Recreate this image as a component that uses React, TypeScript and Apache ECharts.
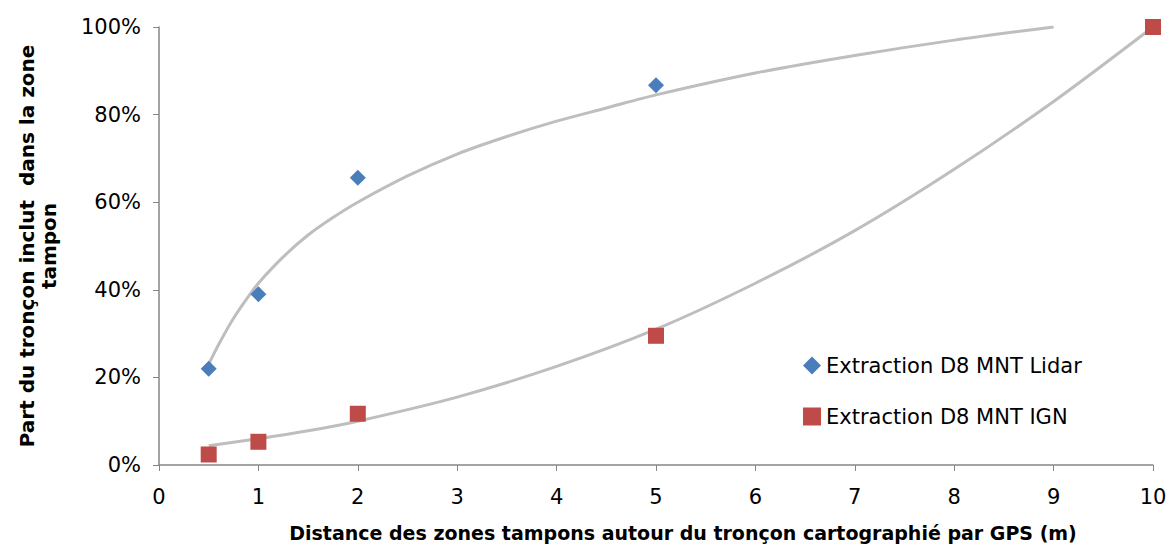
import React, { useEffect, useRef } from "react";
import * as echarts from "echarts";

const lidarName = "Extraction D8 MNT Lidar";
const ignName = "Extraction D8 MNT IGN";

const lidarX = [0.5, 1, 2, 5, 10];
const lidarY = [22, 39, 65.6, 86.7, 100];
const ignX = [0.5, 1, 2, 5, 10];
const ignY = [2.4, 5.3, 11.7, 29.5, 100];

// trend curves
const lidarTrendX = [0.5, 0.6, 0.75, 0.9, 1, 1.25, 1.5, 1.75, 2, 2.5, 3, 3.5, 4, 4.5, 5, 6, 7, 8, 9];
const lidarTrendY = [23, 27.5, 33.5, 38.5, 41.5, 47.5, 52.5, 56.5, 60, 66, 71, 75, 78.5, 81.5, 84.5, 89.5, 93.5, 97, 100];
const ignTrendX = [0.5, 1, 1.5, 2, 3, 4, 5, 6, 7, 8, 9, 10];
const ignTrendY = [4.4, 6, 7.8, 10, 15.5, 22.5, 31, 41.5, 53.5, 67.5, 83, 100];

const xTicks = [0, 1, 2, 3, 4, 5, 6, 7, 8, 9, 10];
const yTicks = [0, 20, 40, 60, 80, 100];

const FONT = "'DejaVu Sans', sans-serif";

const zip = (xs: number[], ys: number[]) => xs.map((x, i) => [x, ys[i]]);

export default function App() {
  const ref = useRef<HTMLDivElement>(null);
  useEffect(() => {
    if (!ref.current) return;
    const chart = echarts.init(ref.current, undefined, { renderer: "svg" });
    chart.setOption({
      animation: false,
      backgroundColor: "#ffffff",
      textStyle: { fontFamily: FONT },
      grid: { left: 159, right: 19, top: 27, bottom: 82 },
      legend: {
        data: [
          { name: lidarName, icon: "diamond" },
          { name: ignName, icon: "rect" },
        ],
        orient: "vertical",
        left: 798,
        top: 350,
        itemWidth: 18,
        itemHeight: 18,
        itemGap: 30,
        textStyle: { fontFamily: FONT, fontSize: 21, color: "#000" },
      },
      xAxis: {
        type: "value",
        min: xTicks[0],
        max: xTicks[xTicks.length - 1],
        interval: 1,
        splitLine: { show: false },
        axisLine: { lineStyle: { color: "#868686", width: 1.5 } },
        axisTick: { length: 6, lineStyle: { color: "#868686" } },
        axisLabel: { fontSize: 21, color: "#000", margin: 21, fontFamily: FONT },
        name: "Distance des zones tampons autour du tronçon cartographié par GPS (m)",
        nameLocation: "middle",
        nameGap: 58,
        nameTextStyle: {
          fontSize: 19,
          fontWeight: "bold",
          color: "#000",
          fontFamily: FONT,
          padding: [0, 0, 0, 54],
        },
      },
      yAxis: {
        type: "value",
        min: yTicks[0],
        max: yTicks[yTicks.length - 1],
        interval: 20,
        splitLine: { show: false },
        axisLine: { show: true, lineStyle: { color: "#868686", width: 1.5 } },
        axisTick: { show: true, length: 6, lineStyle: { color: "#868686" } },
        axisLabel: { fontSize: 21, color: "#000", margin: 18, formatter: "{value}%", fontFamily: FONT },
        name: "Part du tronçon inclut  dans la zone\ntampon",
        nameLocation: "middle",
        nameGap: 99,
        nameTextStyle: { fontSize: 20, fontWeight: "bold", color: "#000", lineHeight: 22, fontFamily: FONT },
      },
      series: [
        {
          name: "lidarTrend",
          type: "line",
          data: zip(lidarTrendX, lidarTrendY),
          smooth: 0.3,
          showSymbol: false,
          lineStyle: { color: "#BEBEBE", width: 3 },
          z: 1,
        },
        {
          name: "ignTrend",
          type: "line",
          data: zip(ignTrendX, ignTrendY),
          smooth: 0.3,
          showSymbol: false,
          lineStyle: { color: "#BEBEBE", width: 3 },
          z: 1,
        },
        {
          name: lidarName,
          type: "scatter",
          data: zip(lidarX, lidarY),
          symbol: "diamond",
          symbolSize: 16,
          itemStyle: { color: "#4A7EBB", opacity: 1 },
          z: 3,
        },
        {
          name: ignName,
          type: "scatter",
          data: zip(ignX, ignY),
          symbol: "rect",
          symbolSize: 16,
          itemStyle: { color: "#BE4B48", opacity: 1 },
          z: 4,
        },
      ],
    });
    return () => chart.dispose();
  }, []);
  return (
    <div
      ref={ref}
      style={{ position: "absolute", left: 0, top: 0, width: 1172, height: 547 }}
    />
  );
}
